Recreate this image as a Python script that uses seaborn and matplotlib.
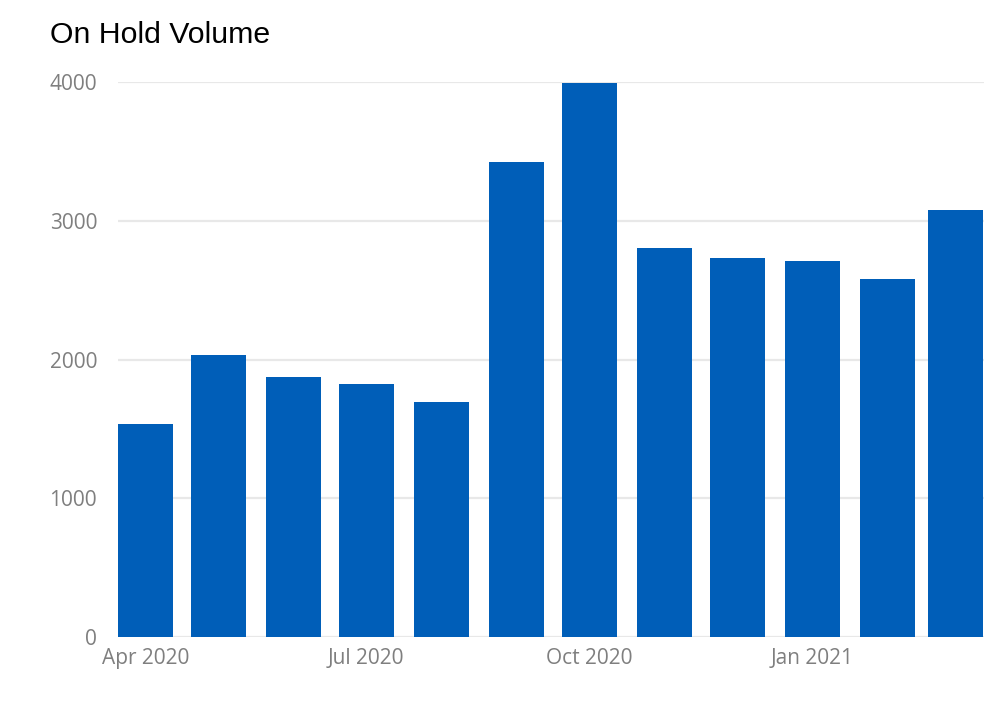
import datetime as dt
import matplotlib
matplotlib.use("Agg")
import matplotlib.pyplot as plt
import matplotlib.dates as mdates
import seaborn as sns
import pandas as pd

months = ["2020-04-01", "2020-05-01", "2020-06-01", "2020-07-01", "2020-08-01",
          "2020-09-01", "2020-10-01", "2020-11-01", "2020-12-01", "2021-01-01",
          "2021-02-01", "2021-03-01"]
volumes = [1535, 2032, 1872, 1821, 1691, 3423, 3993, 2804, 2732, 2710, 2578, 3075]
tick_dates = ["2020-04-01", "2020-07-01", "2020-10-01", "2021-01-01"]
yticks = [0, 1000, 2000, 3000, 4000]
title = "On Hold Volume"

sns.set_theme(style="white")
plt.rcParams["font.family"] = ["Open Sans", "DejaVu Sans"]

x_num = mdates.date2num(pd.to_datetime(months).to_pydatetime())
df = pd.DataFrame({"month": x_num, "volume": volumes})

fig = plt.figure(figsize=(9.84, 7.04), dpi=100)
ax = fig.add_axes([118 / 984, 1 - 637 / 704, 1 - 118 / 984, (637 - 82) / 704])

sns.barplot(data=df, x="month", y="volume", native_scale=True,
            width=22.7 / 28, color="#005eb8", saturation=1, ax=ax, zorder=3,
            linewidth=0)

ax.set_xlim(x_num[0] - 11.34, x_num[0] + 345.8)
ax.set_ylim(0, 4000)
ax.set_yticks(yticks)
ax.set_yticklabels([str(v) for v in yticks])
ax.set_xticks(mdates.date2num(pd.to_datetime(tick_dates).to_pydatetime()))
ax.xaxis.set_major_formatter(mdates.DateFormatter("%b %Y"))
ax.grid(axis="y", color="#e8e8e8", linewidth=1.6, zorder=0)
ax.grid(axis="x", visible=False)
for s in ax.spines.values():
    s.set_visible(False)
ax.tick_params(axis="both", length=0, labelsize=15, colors="#7f7f7f")
ax.tick_params(axis="y", pad=15)
ax.tick_params(axis="x", pad=8)
ax.set_xlabel("")
ax.set_ylabel("")

fig.text(50 / 984, 1 - 43 / 704, title, fontsize=21.8, color="#000000",
         family=["Liberation Sans", "DejaVu Sans"], va="baseline", ha="left")

fig.savefig("out.png", dpi=100)
